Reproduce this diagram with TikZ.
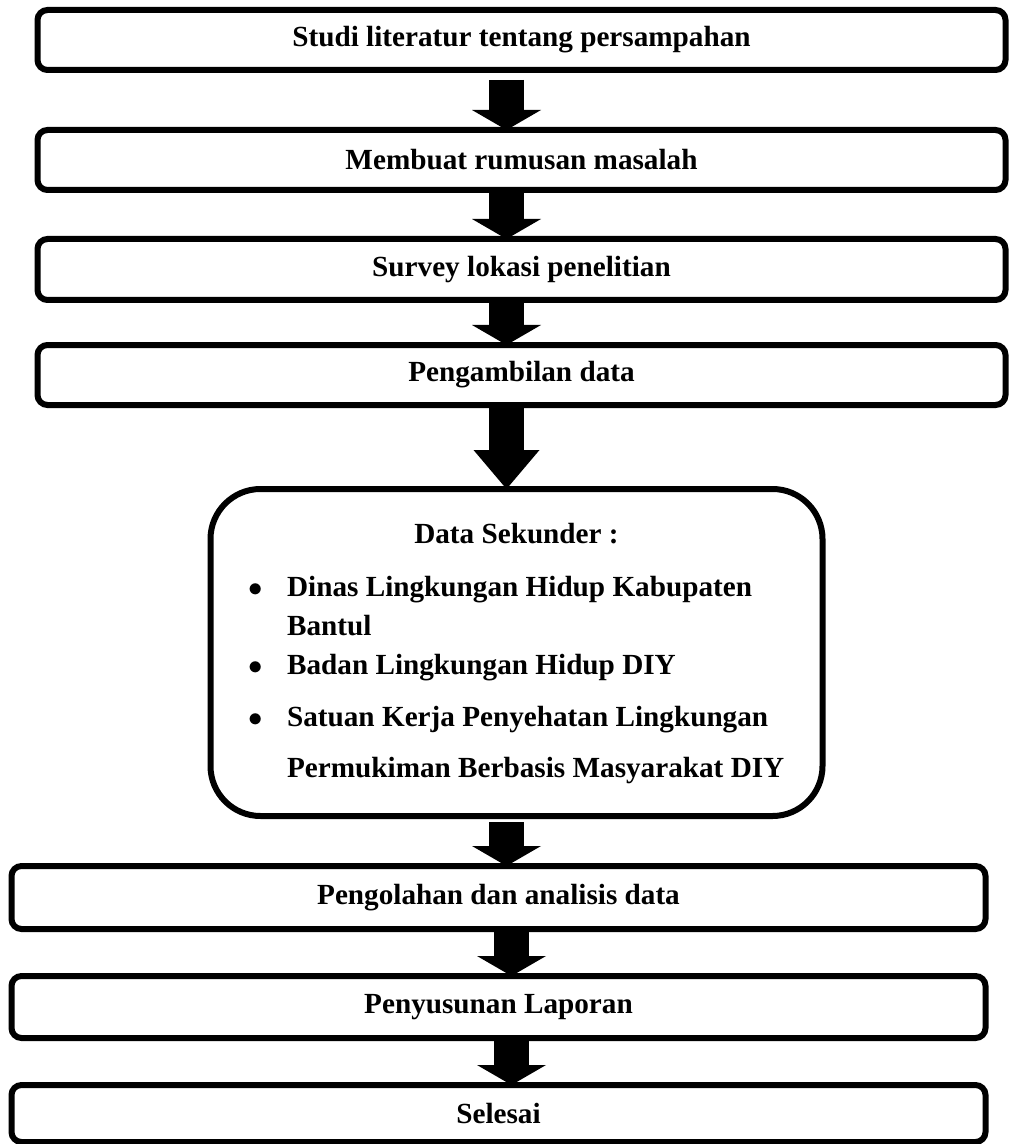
\documentclass[tikz,border=0pt]{standalone}
\usepackage{fontspec}
\setmainfont{Liberation Serif}
\usepackage{tikz}
\usetikzlibrary{positioning}
\usetikzlibrary{arrows.meta}

\begin{document}
\begin{tikzpicture}[x=0.5pt, y=0.5pt, font=\bfseries\fontsize{14.6}{19.5}\selectfont, box/.style={rectangle, rounded corners=5pt, draw=black, line width=3pt, minimum width=484pt, minimum height=30pt, outer sep=0pt}, bigbox/.style={rectangle, rounded corners=25pt, draw=black, line width=3pt, minimum width=306pt, minimum height=163.5pt, outer sep=0pt}, blockarrow/.style={line width=17.5pt, -{Triangle[width=34.5pt, length=10pt, line width=0pt]}}]

    %Frame
    \useasboundingbox (0,0) rectangle (1009,-1144);

    %Nodes
    \node[box](studi) at (521.5,-40){Studi literatur tentang persampahan};
    \node[box](rumusan)[below=30pt of studi]{Membuat rumusan masalah};
    \node[box, minimum height=30.5pt](survey)[below=24.5pt of rumusan]{Survey lokasi penelitian};
    \node[box](pengambilan)[below=22.5pt of survey]{Pengambilan data};
    \node[bigbox](sekunder)[below=42pt of pengambilan, xshift=-2.5pt]{\begin{tabular}{@{}l@{\hspace{12pt}}l@{}}
        \multicolumn{2}{c}{Data Sekunder :}\\[7pt]
        $\bullet$ & Dinas Lingkungan Hidup Kabupaten\\
                  & Bantul\\
        $\bullet$ & Badan Lingkungan Hidup DIY\\[6.5pt]
        $\bullet$ & Satuan Kerja Penyehatan Lingkungan\\[6pt]
                  & Permukiman Berbasis Masyarakat DIY
    \end{tabular}};
    \node[box, minimum width=487pt, minimum height=31.5pt](pengolahan)[below=25pt of sekunder, xshift=-9pt]{Pengolahan dan analisis data};
    \node[box, minimum width=487pt, minimum height=31pt](laporan)[below=23.5pt of pengolahan]{Penyusunan Laporan};
    \node[box, minimum width=487pt, minimum height=28.5pt](selesai)[below=23.5pt of laporan]{Selesai};

    %Arrows
    \draw[blockarrow, shorten <=5pt] ([xshift=-7.5pt]studi.south) -- ([xshift=-7.5pt]rumusan.north);
    \draw[blockarrow] ([xshift=-7.5pt]rumusan.south) -- ([xshift=-7.5pt]survey.north);
    \draw[blockarrow] ([xshift=-7.5pt]survey.south) -- ([xshift=-7.5pt]pengambilan.north);
    \draw[blockarrow, -{Triangle[width=33pt, length=19.5pt, line width=0pt]}] ([xshift=-7.5pt]pengambilan.south) -- ([xshift=-5pt]sekunder.north);
    \draw[blockarrow, shorten <=3pt] ([xshift=-5pt]sekunder.south) -- ([xshift=4pt]pengolahan.north);
    \draw[blockarrow] ([xshift=6.5pt]pengolahan.south) -- ([xshift=6.5pt]laporan.north);
    \draw[blockarrow] ([xshift=6.5pt]laporan.south) -- ([xshift=6.5pt]selesai.north);

\end{tikzpicture}
\end{document}
